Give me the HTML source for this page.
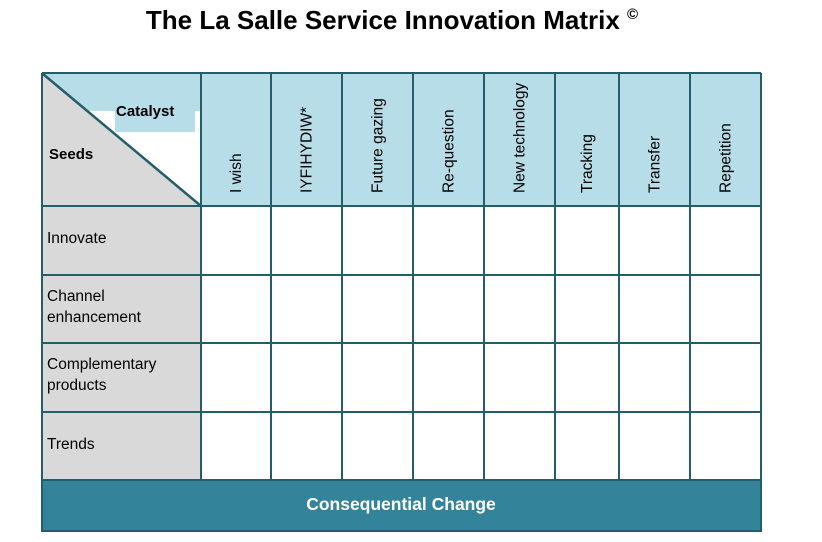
<!DOCTYPE html>
<html><head><meta charset="utf-8"><style>
body{margin:0;background:#fff;width:822px;height:542px;overflow:hidden}
svg{display:block;font-family:"Liberation Sans",sans-serif}
</style></head><body>
<svg width="822" height="542">
<text x="392" y="29" text-anchor="middle" font-size="26" font-weight="bold" fill="#000">The La Salle Service Innovation Matrix <tspan font-size="15" dy="-10">©</tspan></text>
<g>
<rect x="42" y="73" width="159" height="133" fill="#fff"/>
<rect x="42" y="73" width="159" height="38" fill="#B7DDE8"/>
<rect x="115" y="111" width="80" height="21" fill="#B7DDE8"/>
<polygon points="43,74 201,206 43,206" fill="#D9D9D9"/>
<line x1="43" y1="74" x2="201" y2="206" stroke="#255E6B" stroke-width="2.5"/>
<text x="116" y="116" font-size="15" font-weight="bold">Catalyst</text>
<text x="49" y="159" font-size="15" font-weight="bold">Seeds</text>
</g>
<g id="hdr"></g>
<g id="rows"></g>
<rect x="42" y="480" width="719" height="50" fill="#33849B"/>
<text x="401" y="510" text-anchor="middle" font-size="17.5" font-weight="bold" fill="#fff">Consequential Change</text>
<line x1="42" y1="531" x2="761" y2="531" stroke="#255E6B" stroke-width="2"/>
<g id="grid" stroke="#255E6B" stroke-width="2" fill="none"></g>
</svg>
<script>
const catalysts=["I wish","IYFIHYDIW*","Future gazing","Re-question","New technology","Tracking","Transfer","Repetition"];
const seeds=[["Innovate"],["Channel","enhancement"],["Complementary","products"],["Trends"]];
const xs=[42,201,271,342,413,484,555,619,690,761];
const ys=[73,206,275,343,412,480];
const NS="http://www.w3.org/2000/svg";
const hdr=document.getElementById('hdr'),rows=document.getElementById('rows'),grid=document.getElementById('grid');
function mk(t,a,p){const e=document.createElementNS(NS,t);for(const k in a)e.setAttribute(k,a[k]);p.appendChild(e);return e;}
catalysts.forEach((c,i)=>{
 const r=mk('rect',{x:xs[i+1],y:73,width:xs[i+2]-xs[i+1],height:133,fill:'#B7DDE8'},hdr);
 
 
 const cx=(xs[i+1]+xs[i+2])/2+5;
 const t=mk('text',{x:cx,y:193,'font-size':15.5,transform:`rotate(-90 ${cx} 193)`},hdr);
 t.textContent=c;
 
 
});
seeds.forEach((s,j)=>{
 const r=mk('rect',{x:42,y:ys[j+1],width:159,height:ys[j+2]-ys[j+1],fill:'#D9D9D9'},rows);
 
 
 s.forEach((ln,k)=>{
  const t=mk('text',{x:47,y:ys[j+1]+(s.length==1?37:26)+k*21,'font-size':15.5},rows);
  t.textContent=ln;
  
  
 });
 for(let i=0;i<catalysts.length;i++){
  const c=mk('rect',{x:xs[i+1],y:ys[j+1],width:xs[i+2]-xs[i+1],height:ys[j+2]-ys[j+1],fill:'#fff'},rows);
  
  
 }
});
xs.forEach((x,i)=>{const l=mk('line',{x1:x,y1:73,x2:x,y2:(i==0||i==xs.length-1)?532:480},grid);});
ys.forEach(y=>mk('line',{x1:42,y1:y,x2:761,y2:y},grid));
</script>
</body></html>
